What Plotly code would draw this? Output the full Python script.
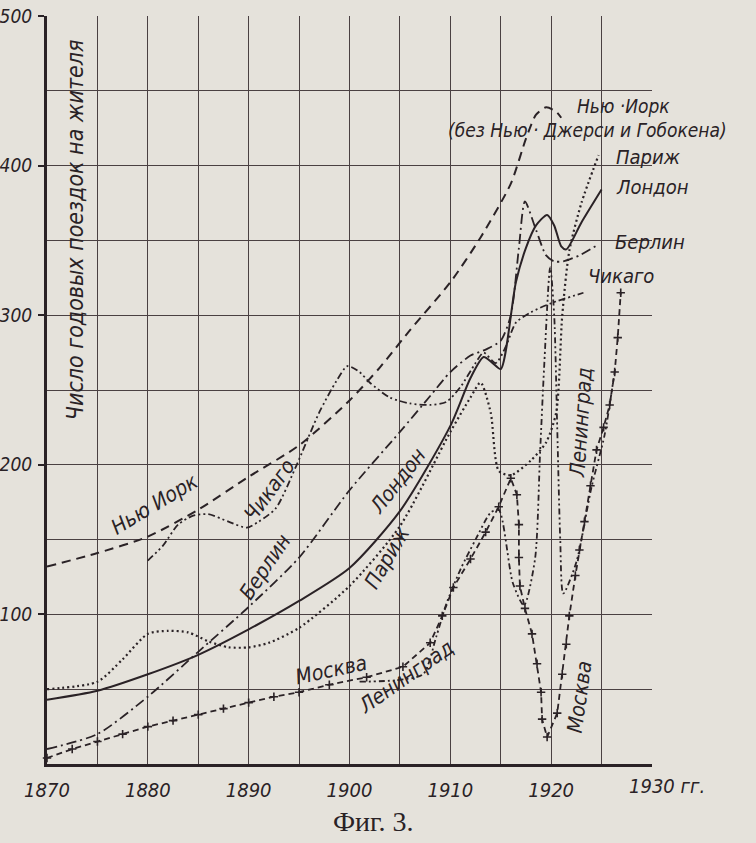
import plotly.graph_objects as go

# ---------------- data ----------------
ny_years = [1870, 1875, 1880, 1885, 1890, 1895, 1900, 1903, 1906, 1910, 1913, 1916, 1917.5, 1918.5, 1919.5, 1920.5, 1921]
ny_vals = [132, 141, 152, 170, 192, 213, 243, 265, 290, 322, 352, 388, 418, 434, 439, 436, 432]

london_years = [1870, 1875, 1880, 1885, 1890, 1895, 1900, 1905, 1910, 1912, 1913.3, 1914.2, 1915, 1916.5, 1917.5, 1918.5, 1919.6, 1920.3, 1921, 1921.5, 1923, 1925]
london_vals = [43, 49, 60, 73, 90, 109, 131, 169, 226, 258, 272, 268, 264, 322, 345, 360, 367, 360, 346, 344, 362, 384]

paris_years = [1870, 1875, 1877.5, 1880, 1882, 1884, 1886, 1888, 1890, 1892, 1895, 1900, 1905, 1910, 1912, 1913, 1914, 1914.8, 1916, 1918, 1919.5, 1920.5, 1921.1, 1921.8, 1923, 1924.7]
paris_vals = [50, 55, 70, 87, 89, 88, 82, 78, 78, 81, 91, 119, 159, 222, 245, 255, 235, 196, 193, 203, 215, 235, 300, 343, 375, 407]

berlin_years = [1870, 1875, 1880, 1885, 1890, 1895, 1900, 1905, 1908, 1910, 1912, 1913.5, 1915, 1916, 1916.8, 1917.4, 1918.5, 1919.5, 1920.3, 1921.2, 1922.8, 1924.6]
berlin_vals = [10, 20, 45, 75, 105, 138, 183, 222, 246, 262, 273, 277, 283, 300, 345, 376, 357, 340, 336, 336, 340, 347]

chicago_years = [1880, 1881.5, 1883, 1884.5, 1886, 1888, 1889.8, 1891, 1892.7, 1894.7, 1897, 1898.7, 1899.8, 1901, 1902, 1904, 1906, 1908, 1909.6, 1911, 1912.5, 1913.3, 1914.5, 1915.5, 1916.5, 1918, 1920, 1923.2]
chicago_vals = [136, 146, 160, 166, 167, 162, 158, 162, 171, 199, 235, 256, 266, 262, 255, 245, 241, 240, 242, 252, 268, 275, 268, 279, 295, 302, 308, 315]

moscow_years = [1870, 1872.5, 1875, 1877.5, 1880, 1882.5, 1885, 1887.5, 1890, 1892.5, 1895, 1898, 1901.7, 1905.3, 1908, 1909.2, 1910.3, 1912, 1913.5, 1914.8, 1916, 1916.6, 1916.8, 1916.8, 1916.9, 1917.4, 1918.1, 1918.6, 1919, 1919.1, 1919.6, 1920.6, 1921.1, 1921.5, 1921.8, 1922.4, 1922.8, 1923.3, 1923.9, 1924.5, 1925.2, 1925.8, 1926.3, 1926.6, 1926.9]
moscow_vals = [4, 10, 15, 20, 25, 29, 33, 37, 41, 45, 48, 53, 58, 65, 81, 99, 118, 137, 155, 172, 191, 180, 160, 138, 119, 104, 87, 67, 48, 30, 18, 34, 60, 80, 99, 126, 143, 162, 186, 210, 225, 240, 262, 285, 315]

leningrad_years = [1901, 1904.6, 1907.3, 1908.6, 1909.6, 1911, 1912.5, 1914, 1914.8, 1916.2, 1917.3, 1918.4, 1918.9, 1919.3, 1919.9, 1920.3, 1920.6, 1920.9, 1921.2, 1922.5, 1924, 1925.3, 1926.2]
leningrad_vals = [55, 56, 60, 85, 107, 130, 150, 168, 170, 121, 106, 137, 208, 265, 332, 300, 225, 150, 114, 135, 185, 220, 258]

x_tick_vals = [1870, 1880, 1890, 1900, 1910, 1920]
x_tick_text = ["1870", "1880", "1890", "1900", "1910", "1920"]
x_last_label = "1930 гг."
x_last_val = 1930
y_tick_vals = [100, 200, 300, 400, 500]
y_tick_text = ["100", "200", "300", "400", "500"]

# ---------------- styling ----------------
PAPER = "#e5e2db"
INK = "#2a2226"
GRID = "#4a4042"
LABEL_FONT = "DejaVu Sans Condensed, DejaVu Sans, sans-serif"

fig = go.Figure()


def add_line(xs, ys, dash, width=1.8, shape="spline", smoothing=0.7, marker=False):
    fig.add_trace(go.Scatter(
        x=xs, y=ys, mode="lines+markers" if marker else "lines",
        line=dict(color=INK, width=width, dash=dash, shape=shape,
                  smoothing=smoothing if shape == "spline" else None),
        marker=dict(symbol="cross-thin", size=6, line=dict(color=INK, width=1.6)) if marker else None,
        showlegend=False, hoverinfo="skip", cliponaxis=False,
    ))


add_line(ny_years, ny_vals, "9px,6px", width=2)
add_line(london_years, london_vals, "solid", width=2)
add_line(paris_years, paris_vals, "2px,3px", width=2.2)
add_line(berlin_years, berlin_vals, "10px,4px,2px,4px", width=1.8)
add_line(chicago_years, chicago_vals, "7px,3px,2px,3px,2px,3px", width=1.8)
add_line(leningrad_years, leningrad_vals, "6px,3px,2px,3px,2px,3px", width=1.8)
add_line(moscow_years, moscow_vals, "6px,4px", width=1.8, shape="linear", marker=True)

ann = []


def label(text, x, y, angle=0, size=21, xanchor="center"):
    ann.append(dict(text=text, x=x, y=y, xref="x", yref="y", showarrow=False,
                    textangle=angle, xanchor=xanchor, yanchor="middle",
                    font=dict(family=LABEL_FONT, size=size, color=INK, style="italic")))


# labels inside plot
label("Нью Иорк", 1880.7, 174, -31)
label("Чикаго", 1892.1, 183, -54)
label("Берлин", 1891.6, 132, -56)
label("Лондон", 1904.8, 189, -52)
label("Париж", 1903.7, 138, -60)
label("Москва", 1898.2, 63, -12)
label("Ленинград", 1905.6, 58, -35)
label("Москва", 1922.8, 45, -82)
label("Ленинград", 1922.95, 228, -86)
# labels on the right
label("Нью ·Иорк", 1927.2, 440, size=19)
label("(без Нью · Джерси и Гобокена)", 1923.6, 424, size=19)
label("Париж", 1929.7, 406, size=20)
label("Лондон", 1930.0, 386, size=20)
label("Берлин", 1929.8, 349, size=20)
label("Чикаго", 1926.9, 326, size=20)
label("Москва", 1931.6, 312, size=20)
label("Ленинград", 1933.9, 263, size=20)
# y-axis title inside the plot
label("Число годовых поездок на жителя", 1872.8, 357, -90, size=23)

# last x tick label with unit
ann.append(dict(text=x_last_label, x=x_last_val, y=0, xref="x", yref="y", showarrow=False,
                xanchor="left", yanchor="top", xshift=-25, yshift=-8,
                font=dict(family=LABEL_FONT, size=20, color=INK, style="italic")))
# figure caption
ann.append(dict(text="Фиг. 3.", x=0.539, y=-0.0775, xref="paper", yref="paper", showarrow=False,
                xanchor="center", yanchor="middle",
                font=dict(family="Liberation Serif, DejaVu Serif, serif", size=28, color=INK)))

axis_font = dict(family=LABEL_FONT, size=20, color=INK, style="italic")
fig.update_layout(
    width=756, height=843,
    margin=dict(l=47, r=104, t=16, b=79, autoexpand=False),
    paper_bgcolor=PAPER, plot_bgcolor=PAPER,
    annotations=ann, hovermode=False,
    xaxis=dict(range=[1870, 1930], tickvals=x_tick_vals, ticktext=x_tick_text,
               showgrid=True, gridcolor=GRID, gridwidth=1.2,
               minor=dict(dtick=5, tick0=1870, showgrid=True, gridcolor=GRID, gridwidth=1.2),
               showline=True, linecolor=INK, linewidth=3, ticks="",
               ticklabelstandoff=6,
               tickfont=axis_font, automargin=False,
               zeroline=False, fixedrange=True),
    yaxis=dict(range=[0, 500], tickvals=y_tick_vals, ticktext=y_tick_text,
               showgrid=True, gridcolor=GRID, gridwidth=1.2,
               minor=dict(dtick=50, tick0=0, showgrid=True, gridcolor=GRID, gridwidth=1.2),
               showline=True, linecolor=INK, linewidth=3, ticks="outside", ticklen=6,
               tickcolor=INK, tickwidth=1.5, ticklabelstandoff=2,
               tickfont=dict(family=LABEL_FONT, size=19, color=INK, style="italic"),
               automargin=False, zeroline=False, fixedrange=True),
)

fig.write_html(
    "out.html",
    config={"displayModeBar": False},
    post_script="document.body.style.margin='0';document.body.style.overflow='hidden';"
                "document.body.style.background='" + PAPER + "';",
)
